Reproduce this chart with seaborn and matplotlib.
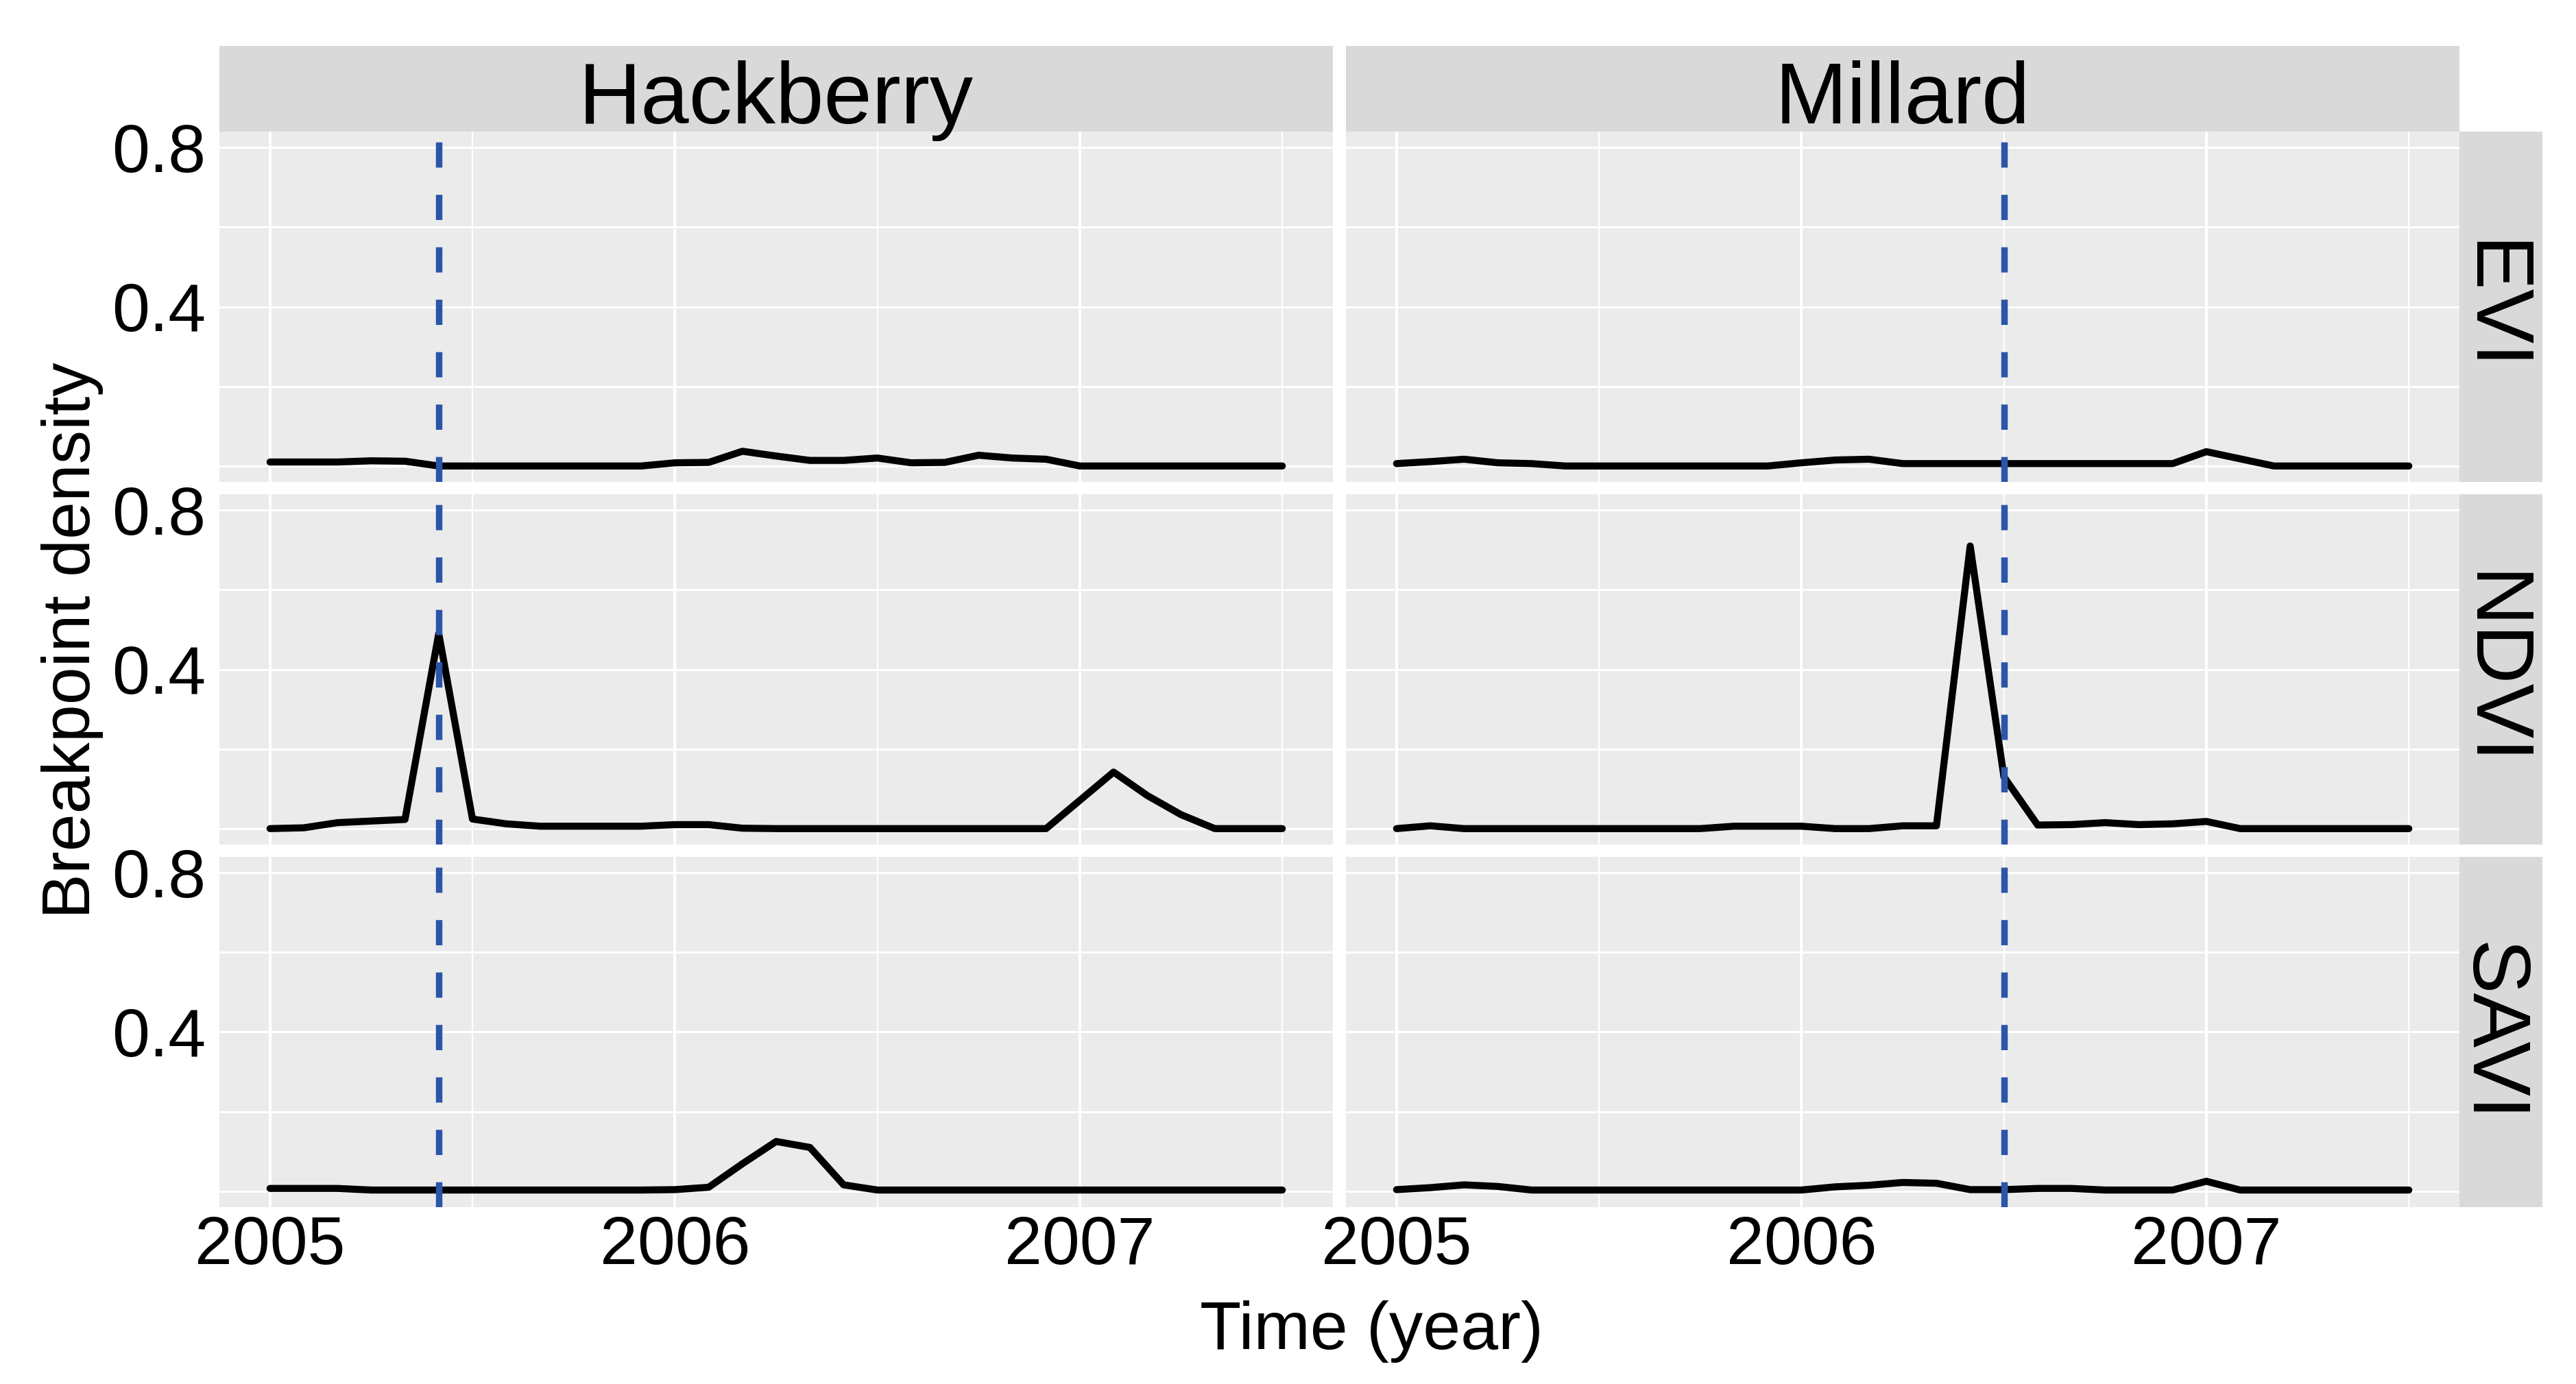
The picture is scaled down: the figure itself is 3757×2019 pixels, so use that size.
import numpy as np
import pandas as pd
import matplotlib
matplotlib.use("Agg")
import matplotlib.pyplot as plt
import seaborn as sns
from matplotlib.patches import Rectangle

# data (monthly, Jan 2005 - Jul 2007)
time = 2005 + np.arange(31) / 12
sites = ["Hackberry", "Millard"]
indices = ["EVI", "NDVI", "SAVI"]
break_dates = [2005 + 5 / 12, 2006.5]

evi_hackberry = [0.010, 0.010, 0.010, 0.013, 0.012, 0.0, 0.0, 0.0, 0.0, 0.0, 0.0, 0.0,
                 0.008, 0.009, 0.037, 0.025, 0.014, 0.014, 0.020, 0.008, 0.009, 0.027, 0.020, 0.017,
                 0.0, 0.0, 0.0, 0.0, 0.0, 0.0, 0.0]
evi_millard = [0.006, 0.011, 0.017, 0.008, 0.006, 0.0, 0.0, 0.0, 0.0, 0.0, 0.0, 0.0,
               0.008, 0.015, 0.017, 0.006, 0.006, 0.006, 0.006, 0.006, 0.006, 0.006, 0.006, 0.006,
               0.036, 0.018, 0.0, 0.0, 0.0, 0.0, 0.0]
ndvi_hackberry = [0.0, 0.002, 0.015, 0.019, 0.023, 0.49, 0.024, 0.012, 0.006, 0.006, 0.006, 0.006,
                  0.010, 0.010, 0.001, 0.0, 0.0, 0.0, 0.0, 0.0, 0.0, 0.0, 0.0, 0.0,
                  0.071, 0.142, 0.083, 0.035, 0.0, 0.0, 0.0]
ndvi_millard = [0.0, 0.007, 0.0, 0.0, 0.0, 0.0, 0.0, 0.0, 0.0, 0.0, 0.006, 0.006,
                0.006, 0.0, 0.0, 0.007, 0.007, 0.71, 0.13, 0.009, 0.010, 0.015, 0.010, 0.012,
                0.018, 0.0, 0.0, 0.0, 0.0, 0.0, 0.0]
savi_hackberry = [0.007, 0.007, 0.007, 0.003, 0.003, 0.003, 0.003, 0.003, 0.003, 0.003, 0.003, 0.003,
                  0.004, 0.010, 0.069, 0.125, 0.110, 0.016, 0.003, 0.003, 0.003, 0.003, 0.003, 0.003,
                  0.003, 0.003, 0.003, 0.003, 0.003, 0.003, 0.003]
savi_millard = [0.004, 0.009, 0.016, 0.012, 0.003, 0.003, 0.003, 0.003, 0.003, 0.003, 0.003, 0.003,
                0.003, 0.011, 0.015, 0.022, 0.020, 0.004, 0.004, 0.007, 0.007, 0.003, 0.003, 0.003,
                0.025, 0.003, 0.003, 0.003, 0.003, 0.003, 0.003]

series = {
    ("EVI", "Hackberry"): evi_hackberry,
    ("EVI", "Millard"): evi_millard,
    ("NDVI", "Hackberry"): ndvi_hackberry,
    ("NDVI", "Millard"): ndvi_millard,
    ("SAVI", "Hackberry"): savi_hackberry,
    ("SAVI", "Millard"): savi_millard,
}

frames = []
for (idx, site), vals in series.items():
    frames.append(pd.DataFrame({"time": time, "density": vals, "index": idx, "site": site}))
df = pd.concat(frames, ignore_index=True)

W, H, DPI = 3757, 2019, 100
BLUE = "#2A55A8"
TXT = 71
LW = 7.4

sns.set_theme(style="darkgrid", rc={"axes.facecolor": "#EBEBEB", "grid.color": "white",
                                     "text.color": "black"})
plt.rcParams["font.family"] = ["Liberation Sans", "DejaVu Sans"]

g = sns.relplot(data=df, x="time", y="density", row="index", col="site",
                row_order=indices, col_order=sites, kind="line", color="black",
                linewidth=LW, estimator=None, height=5, aspect=1.6,
                facet_kws={"sharex": True, "sharey": True, "despine": False})
g.set_titles("")
g.set_axis_labels("", "")

fig = g.figure
fig.set_size_inches(W / DPI, H / DPI)
fig.subplots_adjust(left=320 / W, right=3587 / W, top=1 - 192 / H, bottom=1 - 1761 / H,
                    wspace=0.0117, hspace=0.0352)

for i in range(3):
    for j in range(2):
        ax = g.axes[i, j]
        ax.set_xlim(2004.875, 2007.625)
        ax.set_ylim(-0.04, 0.84)
        ax.set_xticks([2005, 2006, 2007])
        ax.set_xticks([2005.5, 2006.5, 2007.5], minor=True)
        ax.set_yticks([0.4, 0.8])
        ax.set_yticks([0.0, 0.2, 0.6], minor=True)
        ax.set_axisbelow(True)
        ax.grid(True, which="major", axis="x", color="white", lw=2.9)
        ax.grid(True, which="minor", axis="x", color="white", lw=1.7)
        ax.grid(True, which="both", axis="y", color="white", lw=2.2)
        for s in ax.spines.values():
            s.set_visible(False)
        ax.axvline(break_dates[j], color=BLUE, lw=6.8, ls=(0, (3.9, 4.2)), zorder=3)
        for ln in ax.lines[:1]:
            ln.set_solid_joinstyle("round")
        ax.tick_params(which="minor", length=0)
        ax.tick_params(axis="x", which="major", labelsize=TXT, labelcolor="black",
                       color="#333333", width=1.4, length=5.8 if i == 2 else 0, pad=3)
        ax.tick_params(axis="y", which="major", labelsize=TXT, labelcolor="black",
                       color="#333333", width=1.4, length=5.8 if j == 0 else 0, pad=8.6)

# column strips
for j, ax in enumerate(g.axes[0]):
    p = ax.get_position()
    fig.add_artist(Rectangle((p.x0, p.y1), p.width, 125 / H, transform=fig.transFigure,
                             facecolor="#D9D9D9", edgecolor="none"))
    fig.text(p.x0 + p.width / 2, 1 - 180 / H, sites[j], ha="center", va="baseline",
             fontsize=91, color="black")

# row strips
for i, ax in enumerate(g.axes[:, -1]):
    p = ax.get_position()
    fig.add_artist(Rectangle((p.x1, p.y0), 121 / W, p.height, transform=fig.transFigure,
                             facecolor="#D9D9D9", edgecolor="none"))
    fig.text(3602 / W, p.y0 + p.height / 2, indices[i], rotation=-90, rotation_mode="anchor",
             ha="center", va="baseline", fontsize=86, color="black")

fig.text(2000 / W, 1 - 1968 / H, "Time (year)", ha="center", va="baseline",
         fontsize=TXT, color="black")
fig.text(131 / W, 1 - 934 / H, "Breakpoint density", rotation=90, rotation_mode="anchor",
         ha="center", va="baseline", fontsize=TXT, color="black")

fig.savefig("out.png", dpi=DPI)
